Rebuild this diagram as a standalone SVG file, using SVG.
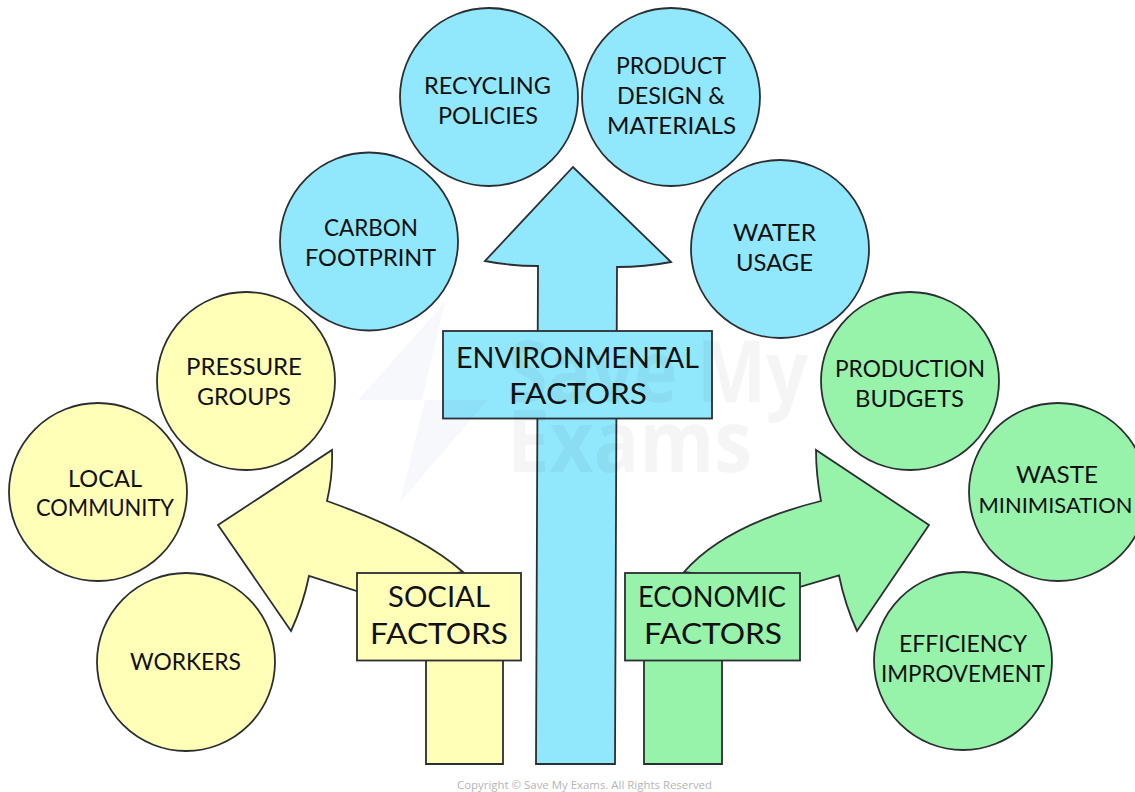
<svg xmlns="http://www.w3.org/2000/svg" width="1135" height="792" viewBox="0 0 1135 792">
<style>
text{font-family:"Lato","Noto Sans",sans-serif;fill:#111;text-anchor:middle}
.s{stroke:#2b2f33;stroke-width:1.800;stroke-linejoin:miter}
.y{fill:#ffffb8}.b{fill:#91e7fb}.g{fill:#97f2aa}
.c text{font-size:23.500px}
.c text.n{font-size:22px}
.l text{font-size:29px}
.wm{fill:#000;fill-opacity:.04;font-family:"Open Sans",sans-serif;font-weight:700;font-size:86px;text-anchor:start}
</style>
<rect width="1135" height="792" fill="#fff"/>
<g id="connectors">
<path class="s b" d="M536 764L538 266Q510 266 485 261L573 167L671 262Q645 267 617 267L615 764Z"/>
<path class="s y" d="M426 660H503V764H426Z"/>
<path class="s y" d="M463 572Q420 534 327 501Q333 475 332 450L218 525L291 631Q303 605 309 576L360 592Z"/>
<path class="s g" d="M644 660H722V764H644Z"/>
<path class="s g" d="M684 572Q725 525 821 501Q816 475 816 450L929 525L857 631Q845 605 839 575.500L796 588Z"/>
</g>
<g id="social-factors" class="l"><rect class="s y" x="357" y="573" width="164" height="87.500"/><text x="439" y="607" textLength="102" lengthAdjust="spacingAndGlyphs">SOCIAL</text><text x="439" y="644" textLength="138" lengthAdjust="spacingAndGlyphs">FACTORS</text></g>
<g id="environmental-factors" class="l"><rect class="s b" x="443" y="331" width="269" height="87.500"/><text x="577.500" y="368" textLength="243" lengthAdjust="spacingAndGlyphs">ENVIRONMENTAL</text><text x="578" y="404" textLength="138" lengthAdjust="spacingAndGlyphs">FACTORS</text></g>
<g id="economic-factors" class="l"><rect class="s g" x="625" y="573" width="175" height="87.500"/><text x="712" y="607" textLength="148" lengthAdjust="spacingAndGlyphs">ECONOMIC</text><text x="713" y="644" textLength="138" lengthAdjust="spacingAndGlyphs">FACTORS</text></g>
<g class="c">
<g id="workers"><circle class="s y" cx="186" cy="662" r="89"/><text x="185.500" y="670" textLength="111" lengthAdjust="spacingAndGlyphs">WORKERS</text></g>
<g id="local-community"><circle class="s y" cx="98" cy="492" r="89"/><text x="105" y="487" textLength="74" lengthAdjust="spacingAndGlyphs">LOCAL</text><text x="105" y="516" textLength="138" lengthAdjust="spacingAndGlyphs">COMMUNITY</text></g>
<g id="pressure-groups"><circle class="s y" cx="246" cy="381" r="89"/><text x="244" y="375" textLength="116" lengthAdjust="spacingAndGlyphs">PRESSURE</text><text x="244" y="405" textLength="94" lengthAdjust="spacingAndGlyphs">GROUPS</text></g>
<g id="carbon-footprint"><circle class="s b" cx="369" cy="241.500" r="89"/><text x="371" y="236" textLength="94" lengthAdjust="spacingAndGlyphs">CARBON</text><text x="370.500" y="266" textLength="131" lengthAdjust="spacingAndGlyphs">FOOTPRINT</text></g>
<g id="recycling-policies"><circle class="s b" cx="489" cy="97" r="89"/><text x="487.500" y="94" textLength="127" lengthAdjust="spacingAndGlyphs">RECYCLING</text><text x="488" y="124" textLength="100" lengthAdjust="spacingAndGlyphs">POLICIES</text></g>
<g id="product-design"><circle class="s b" cx="671" cy="97" r="89"/><text x="671" y="74" textLength="110" lengthAdjust="spacingAndGlyphs">PRODUCT</text><text x="671" y="104" textLength="108" lengthAdjust="spacingAndGlyphs">DESIGN &amp;</text><text x="671.500" y="134" textLength="129" lengthAdjust="spacingAndGlyphs">MATERIALS</text></g>
<g id="water-usage"><circle class="s b" cx="780" cy="249" r="89"/><text x="774.500" y="241" textLength="83" lengthAdjust="spacingAndGlyphs">WATER</text><text x="774.500" y="271" textLength="77" lengthAdjust="spacingAndGlyphs">USAGE</text></g>
<g id="production-budgets"><circle class="s g" cx="910" cy="381" r="89"/><text x="910" y="377" textLength="150" lengthAdjust="spacingAndGlyphs">PRODUCTION</text><text x="909.500" y="407" textLength="109" lengthAdjust="spacingAndGlyphs">BUDGETS</text></g>
<g id="waste-minimisation"><circle class="s g" cx="1058" cy="492" r="89"/><text x="1057" y="483" textLength="82" lengthAdjust="spacingAndGlyphs">WASTE</text><text class="n" x="1055.500" y="513" textLength="154" lengthAdjust="spacingAndGlyphs">MINIMISATION</text></g>
<g id="efficiency-improvement"><circle class="s g" cx="963" cy="661" r="89"/><text x="963" y="652" textLength="128" lengthAdjust="spacingAndGlyphs">EFFICIENCY</text><text x="963" y="682" textLength="164" lengthAdjust="spacingAndGlyphs">IMPROVEMENT</text></g>
</g>
<g id="watermark">
<path fill="#3c50b4" fill-opacity=".04" d="M445 302L358 400H425L400 502L488 400H422Z"/>
<text class="wm" x="507" y="402" textLength="301" lengthAdjust="spacingAndGlyphs">Save My</text>
<text class="wm" x="507" y="472" textLength="245" lengthAdjust="spacingAndGlyphs">Exams</text>
</g>
<text x="584.500" y="789" textLength="255" lengthAdjust="spacingAndGlyphs" style="font-family:'Open Sans',sans-serif;font-size:11.500px;fill:#b5b5b5">Copyright © Save My Exams. All Rights Reserved</text>
</svg>
